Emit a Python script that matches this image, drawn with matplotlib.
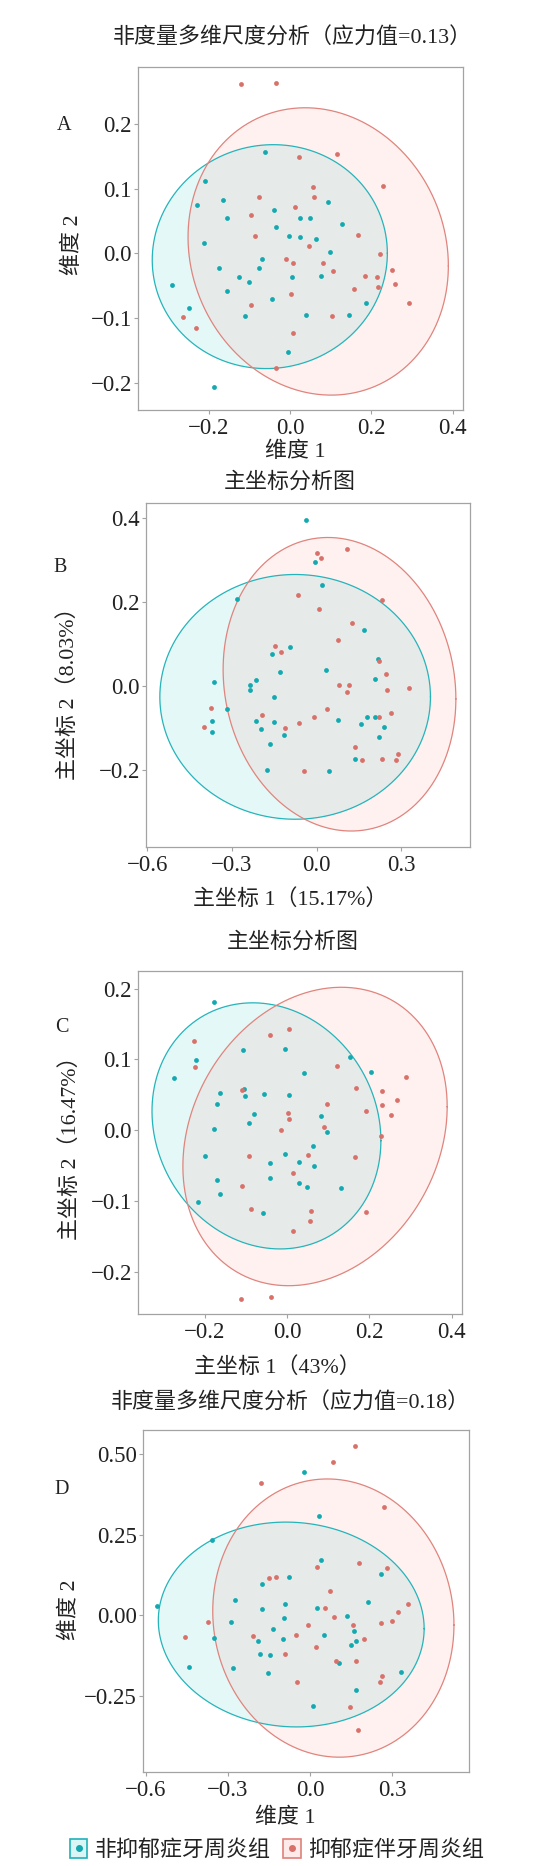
import numpy as np
import matplotlib.pyplot as plt
from matplotlib.lines import Line2D
from matplotlib.patches import Patch
from matplotlib.ticker import FuncFormatter

plt.rcParams['font.family'] = ['Liberation Serif', 'Noto Sans CJK SC']

# ---------------- data ----------------
groups = ['非抑郁症牙周炎组', '抑郁症伴牙周炎组']

# A: NMDS, stress 0.13
a_ctrl_x = [-0.062, -0.210, -0.164, -0.228, -0.156, -0.039, -0.034, -0.211, -0.003, 0.025, 0.048,
            0.093, 0.128, 0.025, 0.064, 0.097, -0.070, -0.076, -0.174, -0.126, -0.102, 0.005,
            0.075, -0.154, -0.291, -0.044, 0.186, -0.249, -0.112, 0.038, 0.145, -0.005, -0.186]
a_ctrl_y = [0.156, 0.112, 0.083, 0.074, 0.054, 0.067, 0.041, 0.016, 0.027, 0.055, 0.054,
            0.080, 0.045, 0.026, 0.023, 0.002, -0.009, -0.022, -0.023, -0.036, -0.044, -0.036,
            -0.035, -0.058, -0.049, -0.070, -0.077, -0.085, -0.096, -0.095, -0.095, -0.153, -0.206]
a_dep_x = [-0.121, -0.034, 0.021, 0.115, 0.228, 0.056, 0.058, -0.076, 0.012, -0.097, -0.087,
           0.167, 0.047, 0.221, -0.011, 0.006, 0.081, 0.105, 0.250, 0.185, 0.213, 0.215,
           0.257, 0.157, 0.003, 0.292, -0.097, 0.103, -0.264, -0.231, 0.006, -0.035]
a_dep_y = [0.261, 0.263, 0.149, 0.154, 0.104, 0.102, 0.087, 0.087, 0.072, 0.060, 0.027,
           0.029, 0.011, -0.001, -0.009, -0.015, -0.015, -0.027, -0.026, -0.035, -0.037, -0.052,
           -0.047, -0.055, -0.063, -0.076, -0.079, -0.096, -0.098, -0.116, -0.123, -0.177]
# ellipse: centre x, centre y, half width, half height, correlation
a_ctrl_ell = [-0.050, -0.005, 0.289, 0.173, 0.03]
a_dep_ell = [0.069, 0.003, 0.320, 0.222, -0.10]

# B: PCoA (15.17% / 8.03%)
b_ctrl_x = [-0.037, -0.004, 0.020, -0.281, 0.166, -0.094, -0.159, -0.128, 0.034, 0.216, 0.208,
            -0.364, -0.214, -0.235, -0.235, -0.152, -0.318, -0.371, -0.371, -0.216, -0.197, -0.152,
            -0.117, -0.165, -0.177, 0.043, 0.077, 0.156, 0.177, 0.205, 0.237, 0.222, 0.135]
b_ctrl_y = [0.395, 0.294, 0.240, 0.206, 0.134, 0.092, 0.077, 0.033, 0.037, 0.064, 0.017,
            0.009, 0.014, 0.002, -0.010, -0.026, -0.056, -0.083, -0.110, -0.083, -0.102, -0.086,
            -0.116, -0.137, -0.199, -0.202, -0.081, -0.091, -0.075, -0.074, -0.097, -0.122, -0.174]
b_dep_x = [0.001, 0.015, 0.107, -0.066, 0.008, 0.231, 0.126, 0.074, -0.148, -0.126, 0.222,
           0.247, 0.081, 0.113, 0.109, 0.249, 0.328, -0.373, -0.400, 0.035, -0.008, -0.192,
           -0.061, -0.111, 0.222, 0.262, 0.136, 0.159, 0.231, 0.281, 0.289, -0.045]
b_dep_y = [0.317, 0.305, 0.326, 0.217, 0.183, 0.205, 0.149, 0.110, 0.095, 0.081, 0.059,
           0.029, 0.002, 0.002, -0.015, -0.009, -0.004, -0.053, -0.097, -0.056, -0.073, -0.069,
           -0.087, -0.101, -0.075, -0.065, -0.146, -0.176, -0.174, -0.175, -0.162, -0.203]
b_ctrl_ell = [-0.076, -0.026, 0.479, 0.291, 0.0]
b_dep_ell = [0.081, 0.004, 0.412, 0.349, -0.10]

# C: PCoA (43% / 16.47%)
c_ctrl_x = [-0.178, -0.222, -0.274, -0.106, -0.006, 0.152, 0.204, 0.041, -0.104, -0.163, -0.055,
            0.004, -0.101, -0.170, -0.081, -0.092, 0.083, -0.177, 0.096, -0.199, -0.006, 0.062,
            0.028, -0.041, 0.065, -0.041, -0.169, 0.030, 0.049, 0.131, -0.164, -0.217, -0.058]
c_ctrl_y = [0.181, 0.099, 0.074, 0.113, 0.115, 0.104, 0.082, 0.081, 0.058, 0.052, 0.051,
            0.050, 0.048, 0.037, 0.023, 0.010, 0.020, 0.002, -0.003, -0.036, -0.034, -0.023,
            -0.045, -0.046, -0.051, -0.067, -0.071, -0.075, -0.080, -0.082, -0.090, -0.101, -0.117]
c_dep_x = [0.004, -0.041, -0.226, -0.224, 0.121, 0.288, 0.168, 0.230, -0.109, 0.267, 0.096,
           0.230, 0.193, 0.252, 0.002, 0.005, -0.015, 0.089, 0.228, -0.092, 0.050, 0.164,
           0.015, -0.109, -0.088, 0.059, 0.056, 0.192, 0.015, -0.113, -0.038]
c_dep_y = [0.143, 0.134, 0.126, 0.089, 0.091, 0.075, 0.059, 0.055, 0.057, 0.043, 0.037,
           0.036, 0.027, 0.022, 0.024, 0.016, 0.000, 0.004, -0.008, -0.037, -0.035, -0.038,
           -0.061, -0.079, -0.112, -0.115, -0.129, -0.116, -0.142, -0.239, -0.236]
c_ctrl_ell = [-0.050, 0.006, 0.278, 0.174, -0.12]
c_dep_ell = [0.068, -0.009, 0.321, 0.211, 0.20]

# D: NMDS, stress 0.18
d_ctrl_x = [-0.021, 0.033, -0.358, 0.041, 0.258, -0.078, -0.175, -0.275, 0.213, -0.093, -0.175,
            -0.560, 0.027, -0.097, 0.136, -0.289, -0.136, 0.161, -0.351, -0.100, 0.052, -0.189,
            0.167, 0.150, -0.185, -0.146, 0.105, -0.441, -0.281, -0.155, 0.331, 0.167, 0.010]
d_ctrl_y = [0.445, 0.307, 0.234, 0.172, 0.128, 0.119, 0.098, 0.048, 0.042, 0.035, 0.020,
            0.030, 0.023, -0.010, -0.003, -0.022, -0.044, -0.049, -0.070, -0.074, -0.062, -0.079,
            -0.080, -0.093, -0.121, -0.125, -0.149, -0.160, -0.165, -0.179, -0.176, -0.233, -0.281]
d_dep_x = [0.163, 0.083, -0.180, 0.269, 0.027, 0.179, 0.281, -0.150, -0.124, 0.074, 0.055,
           0.357, 0.322, 0.088, 0.301, 0.258, -0.374, 0.157, -0.009, -0.456, -0.208, -0.051,
           0.196, 0.022, -0.091, 0.095, 0.169, 0.264, 0.256, -0.049, 0.146, 0.174]
d_dep_y = [0.526, 0.477, 0.409, 0.337, 0.151, 0.163, 0.148, 0.114, 0.118, 0.074, 0.021,
           0.035, 0.009, -0.005, -0.019, -0.024, -0.020, -0.029, -0.032, -0.068, -0.064, -0.061,
           -0.073, -0.099, -0.121, -0.142, -0.142, -0.189, -0.206, -0.208, -0.284, -0.356]
d_ctrl_ell = [-0.069, -0.029, 0.486, 0.318, -0.04]
d_dep_ell = [0.085, -0.009, 0.441, 0.432, -0.05]

titles = ['非度量多维尺度分析（应力值=0.13）', '主坐标分析图', '主坐标分析图',
          '非度量多维尺度分析（应力值=0.18）']
xlabels = ['维度 1', '主坐标 1（15.17%）', '主坐标 1（43%）', '维度 1']
ylabels = ['维度 2', '主坐标 2（8.03%）', '主坐标 2（16.47%）', '维度 2']
letters = ['A', 'B', 'C', 'D']
xticks = [[-0.2, 0.0, 0.2, 0.4], [-0.6, -0.3, 0.0, 0.3], [-0.2, 0.0, 0.2, 0.4], [-0.6, -0.3, 0.0, 0.3]]
yticks = [[-0.2, -0.1, 0.0, 0.1, 0.2], [-0.2, 0.0, 0.2, 0.4], [-0.2, -0.1, 0.0, 0.1, 0.2],
          [-0.25, 0.0, 0.25, 0.5]]
ydigits = [1, 1, 1, 2]
xlims = [(-0.374, 0.425), (-0.604, 0.543), (-0.362, 0.425), (-0.611, 0.581)]
ylims = [(-0.242, 0.288), (-0.383, 0.435), (-0.260, 0.225), (-0.487, 0.575)]

# ---------------- layout (pixels) ----------------
W, H = 550, 1866
# axes box: left, top, right, bottom
boxes = [(138, 67, 463, 410), (146, 503, 470, 847), (138, 971, 462, 1314), (143, 1430, 469, 1772)]
title_pos = [(292, 38), (290, 482), (293, 942), (290, 1403)]
letter_pos = [(64, 125), (60, 567), (62, 1027), (62, 1490)]
xlabel_pos = [(295, 452), (290, 899), (277, 1367), (285, 1818)]
ylabel_pos = [(73, 245), (68, 688), (70, 1143), (70, 1610)]

pt_col = ['#13a9b0', '#d9716b']
line_col = ['#25b4ba', '#e0847d']
fill_col = ['#00bfc4', '#f8766d']
frame_col = '#a3a3a3'


def fx(px):
    return px / W


def fy(py):
    return 1 - py / H


def fmt(digits):
    def f(v, pos):
        s = '%.*f' % (digits, v)
        if float(s) == 0:
            s = '%.*f' % (digits, 0.0)
        return s.replace('-', '\u2212')
    return FuncFormatter(f)


def draw_ellipse(ax, params, line, fill):
    cx, cy, hw, hh, rho = params
    cov = np.array([[hw ** 2, rho * hw * hh], [rho * hw * hh, hh ** 2]])
    chol = np.linalg.cholesky(cov)
    t = np.linspace(0, 2 * np.pi, 300)
    pts = chol @ np.vstack([np.cos(t), np.sin(t)])
    ax.fill(cx + pts[0], cy + pts[1], color=fill, alpha=0.1, lw=0, zorder=1)
    ax.plot(cx + pts[0], cy + pts[1], color=line, lw=0.9, zorder=2)


panels = [
    (a_ctrl_x, a_ctrl_y, a_dep_x, a_dep_y, a_ctrl_ell, a_dep_ell),
    (b_ctrl_x, b_ctrl_y, b_dep_x, b_dep_y, b_ctrl_ell, b_dep_ell),
    (c_ctrl_x, c_ctrl_y, c_dep_x, c_dep_y, c_ctrl_ell, c_dep_ell),
    (d_ctrl_x, d_ctrl_y, d_dep_x, d_dep_y, d_ctrl_ell, d_dep_ell),
]

fig = plt.figure(figsize=(W / 100, H / 100), dpi=100)

for i, (cx_, cy_, dx_, dy_, c_ell, d_ell) in enumerate(panels):
    l, t, r, b = boxes[i]
    ax = fig.add_axes([fx(l), fy(b), (r - l) / W, (b - t) / H])
    draw_ellipse(ax, c_ell, line_col[0], fill_col[0])
    draw_ellipse(ax, d_ell, line_col[1], fill_col[1])
    ax.scatter(cx_, cy_, s=12, color=pt_col[0], lw=0, zorder=3)
    ax.scatter(dx_, dy_, s=12, color=pt_col[1], lw=0, zorder=3)
    ax.set_xlim(xlims[i])
    ax.set_ylim(ylims[i])
    ax.set_xticks(xticks[i])
    ax.set_yticks(yticks[i])
    ax.xaxis.set_major_formatter(fmt(1))
    ax.yaxis.set_major_formatter(fmt(ydigits[i]))
    for sp in ax.spines.values():
        sp.set_color(frame_col)
        sp.set_linewidth(0.9)
    ax.tick_params(axis='both', colors=frame_col, labelcolor='#222222', labelsize=16.5,
                   length=3, width=0.8, direction='out')
    ax.tick_params(axis='y', pad=1.5)
    ax.tick_params(axis='x', pad=3)

    fig.text(fx(title_pos[i][0]), fy(title_pos[i][1]), titles[i], fontsize=15.8,
             ha='center', va='center', color='#222222')
    fig.text(fx(letter_pos[i][0]), fy(letter_pos[i][1]), letters[i], fontsize=14.5,
             ha='center', va='center', color='#222222')
    fig.text(fx(xlabel_pos[i][0]), fy(xlabel_pos[i][1]), xlabels[i], fontsize=15.8,
             ha='center', va='center', color='#222222')
    fig.text(fx(ylabel_pos[i][0]), fy(ylabel_pos[i][1]), ylabels[i], fontsize=15.8,
             ha='center', va='center', rotation=90, color='#222222')

handles = []
for k in range(2):
    box = Patch(facecolor=fill_col[k], edgecolor=line_col[k], alpha=0.15, lw=1.2)
    edge = Patch(facecolor='none', edgecolor=line_col[k], lw=1.2)
    dot = Line2D([], [], marker='o', color=pt_col[k], linestyle='none', markersize=4)
    handles.append((box, edge, dot))

fig.legend(handles, groups, loc='center', bbox_to_anchor=(fx(277), fy(1850)), ncol=2,
           frameon=False, fontsize=15.8, handlelength=0.8, handleheight=1.0,
           handletextpad=0.35, columnspacing=0.55, borderpad=0, labelcolor='#222222')

fig.savefig('out.png', dpi=100, facecolor='white')
